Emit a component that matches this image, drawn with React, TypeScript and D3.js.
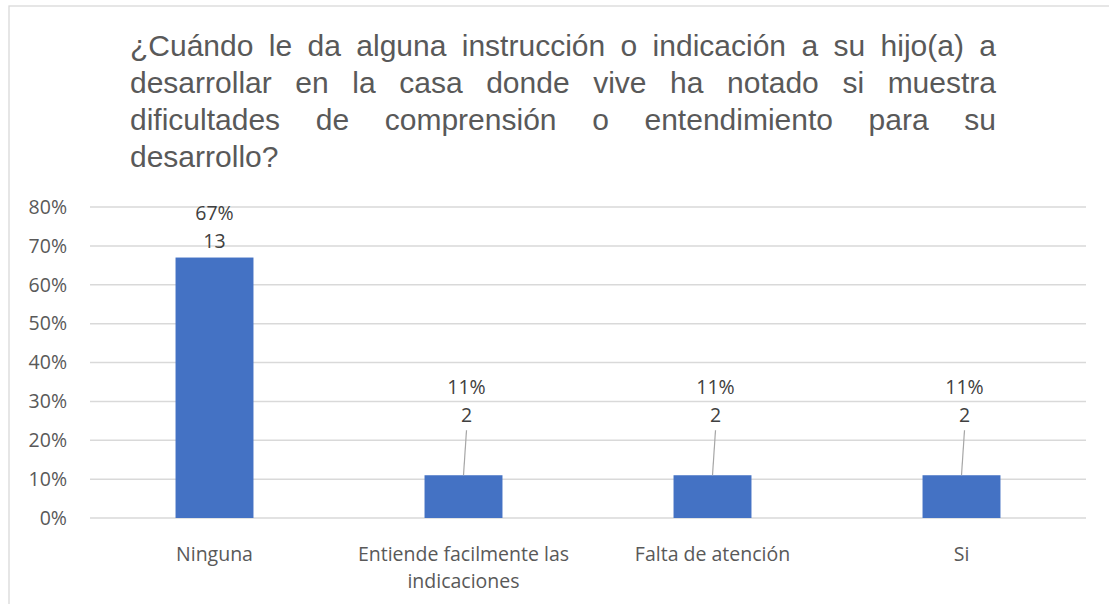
import React, { useEffect, useRef } from "react";
import * as d3 from "d3";

const titleLines = [
  "¿Cuándo le da alguna instrucción o indicación a su hijo(a) a",
  "desarrollar en la casa donde vive ha notado si muestra",
  "dificultades de comprensión o entendimiento para su",
  "desarrollo?",
];
const categories = ["Ninguna", "Entiende facilmente las indicaciones", "Falta de atención", "Si"];
const percentages = [0.67, 0.11, 0.11, 0.11];
const counts = [13, 2, 2, 2];
const yTicks = [0, 0.1, 0.2, 0.3, 0.4, 0.5, 0.6, 0.7, 0.8];

const W = 1109;
const H = 604;
const plot = { left: 90, right: 1086, top: 207, bottom: 518 };
const labelLift = [0, 43, 43, 43];
const axisFont = "'Open Sans', 'Noto Sans', sans-serif";
const axisSize = 19.5;

function wrap(text: string, maxChars: number): string[] {
  const words = text.split(" ");
  const lines: string[] = [];
  let cur = "";
  for (const w of words) {
    const next = cur ? cur + " " + w : w;
    if (next.length > maxChars && cur) {
      lines.push(cur);
      cur = w;
    } else cur = next;
  }
  if (cur) lines.push(cur);
  return lines;
}

export default function App() {
  const titleRef = useRef<SVGGElement>(null);

  const x = d3
    .scaleBand<string>()
    .domain(categories)
    .range([plot.left, plot.right])
    .paddingInner(0.687)
    .paddingOuter(0.3435);
  const y = d3.scaleLinear().domain([0, 0.8]).range([plot.bottom, plot.top]);

  useEffect(() => {
    if (!titleRef.current) return;
    const target = 866;
    d3.select(titleRef.current)
      .selectAll<SVGTextElement, string>("text")
      .each(function (d, i) {
        if (i === titleLines.length - 1) return;
        const el = this as SVGTextElement;
        el.setAttribute("word-spacing", "0");
        const natural = el.getComputedTextLength();
        const spaces = (titleLines[i].match(/ /g) || []).length;
        if (spaces > 0) {
          const extra = (target - natural) / spaces;
          el.setAttribute("word-spacing", String(extra));
        }
      });
  }, []);

  return (
    <svg
      width={W}
      height={H}
      style={{ position: "absolute", left: 0, top: 0, background: "#fff" }}
    >
      <rect x={9} y={6} width={1120} height={640} fill="#fff" stroke="#d9d9d9" strokeWidth={1.3} />
      <g ref={titleRef}>
        {titleLines.map((t, i) => (
          <text
            key={i}
            x={130}
            y={55.5 + i * 37.3}
            fontFamily="'Liberation Sans', Arial, sans-serif"
            fontSize={30}
            fill="#595959"
          >
            {t}
          </text>
        ))}
      </g>
      {yTicks.map((t) => (
        <g key={t}>
          <line
            x1={plot.left}
            x2={plot.right}
            y1={y(t)}
            y2={y(t)}
            stroke="#d9d9d9"
            strokeWidth={1.5}
          />
          <text
            x={67}
            y={y(t)}
            dy="0.35em"
            textAnchor="end"
            fontFamily={axisFont}
            fontSize={axisSize}
            fill="#595959"
          >
            {d3.format(".0%")(t)}
          </text>
        </g>
      ))}
      {categories.map((c, i) => {
        const bx = x(c)!;
        const bw = x.bandwidth();
        const top = y(percentages[i]);
        const cx = bx + bw / 2;
        const lift = labelLift[i];
        const numBase = top - 10 - lift;
        const lx = cx + (lift > 0 ? 3 : 0);
        return (
          <g key={c}>
            <rect x={bx} y={top} width={bw} height={plot.bottom - top} fill="#4472c4" />
            {lift > 0 && (
              <line
                x1={cx + 3}
                y1={numBase + 8}
                x2={cx}
                y2={top}
                stroke="#a6a6a6"
                strokeWidth={1.2}
              />
            )}
            <text
              x={lx}
              y={numBase - 28}
              textAnchor="middle"
              fontFamily={axisFont}
              fontSize={axisSize}
              fill="#404040"
            >
              {d3.format(".0%")(percentages[i])}
            </text>
            <text
              x={lx}
              y={numBase}
              textAnchor="middle"
              fontFamily={axisFont}
              fontSize={axisSize}
              fill="#404040"
            >
              {counts[i]}
            </text>
            {wrap(c, 24).map((ln, j) => (
              <text
                key={j}
                x={cx}
                y={561 + j * 27}
                textAnchor="middle"
                fontFamily={axisFont}
                fontSize={axisSize}
                fill="#595959"
              >
                {ln}
              </text>
            ))}
          </g>
        );
      })}
    </svg>
  );
}
